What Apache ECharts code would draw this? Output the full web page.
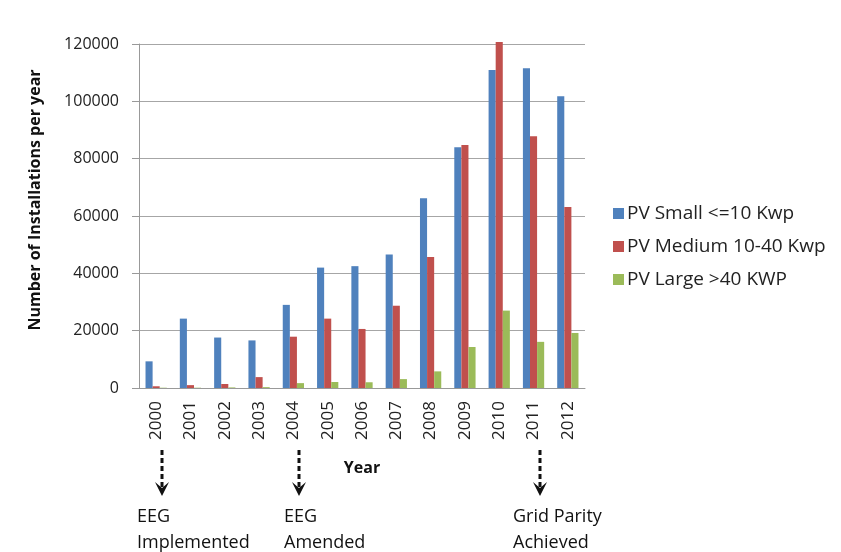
<!DOCTYPE html>
<html>
<head>
<meta charset="utf-8">
<script src="https://cdn.jsdelivr.net/npm/echarts@6/dist/echarts.min.js"></script>
<style>
  html, body { margin: 0; padding: 0; background: #ffffff; }
  #chart { width: 841px; height: 552px; }
</style>
</head>
<body>
<div id="chart"></div>
<script>
// Annual PV installations by system size
const years = ['2000','2001','2002','2003','2004','2005','2006','2007','2008','2009','2010','2011','2012'];
const pvSmall  = [9300, 24200, 17600, 16600, 29000, 42000, 42500, 46600, 66200, 84000, 110900, 111500, 101800];
const pvMedium = [600, 1000, 1400, 3800, 17900, 24200, 20600, 28700, 45700, 84800, 120700, 87800, 63100];
const pvLarge  = [100, 100, 200, 300, 1700, 2100, 2000, 3100, 5800, 14300, 27000, 16100, 19200];
const yTicks = [0, 20000, 40000, 60000, 80000, 100000, 120000];

// Policy milestones marked under the year axis
const milestones = [
  { year: '2000', lines: ['EEG', 'Implemented'], dx: -25 },
  { year: '2004', lines: ['EEG', 'Amended'], dx: -15 },
  { year: '2011', lines: ['Grid Parity', 'Achieved'], dx: -27 }
];

const font = "'Open Sans', 'Liberation Sans', sans-serif";
const chart = echarts.init(document.getElementById('chart'));

chart.setOption({
  animation: false,
  backgroundColor: '#ffffff',
  color: ['#4F81BD', '#C0504D', '#9BBB59'],
  grid: { left: 139, right: 256, top: 44, bottom: 164 },
  legend: {
    orient: 'vertical',
    left: 608,
    top: 199,
    itemWidth: 11,
    itemHeight: 11,
    itemGap: 14,
    icon: 'rect',
    textStyle: { fontFamily: font, fontSize: 19, color: '#222', padding: [0, 0, 0, -2] },
    data: ['PV Small <=10 Kwp', 'PV Medium 10-40 Kwp', 'PV Large >40 KWP']
  },
  xAxis: {
    type: 'category',
    data: years,
    name: 'Year',
    nameLocation: 'middle',
    nameGap: 72,
    nameTextStyle: { fontFamily: font, fontSize: 16, fontWeight: 'bold', color: '#111' },
    axisLine: { lineStyle: { color: '#999' } },
    axisTick: { show: false },
    axisLabel: { rotate: 90, fontFamily: font, fontSize: 17, color: '#222', margin: 13 }
  },
  yAxis: {
    type: 'value',
    min: yTicks[0],
    max: yTicks[yTicks.length - 1],
    interval: yTicks[1] - yTicks[0],
    name: 'Number of Installations per year',
    nameLocation: 'middle',
    nameGap: 96,
    nameTextStyle: { fontFamily: font, fontSize: 16, fontWeight: 'bold', color: '#111', padding: [0, 0, 0, 32] },
    axisLine: { show: true, lineStyle: { color: '#999' } },
    axisTick: { show: true, length: 7, lineStyle: { color: '#999' } },
    axisLabel: { fontFamily: font, fontSize: 16, color: '#222', margin: 20, formatter: function (v) { return String(v); } },
    splitLine: { lineStyle: { color: '#a6a6a6' } }
  },
  series: [
    { name: 'PV Small <=10 Kwp', type: 'bar', data: pvSmall, barGap: '0%', barCategoryGap: '38%', clip: false },
    { name: 'PV Medium 10-40 Kwp', type: 'bar', data: pvMedium, barGap: '0%', barCategoryGap: '38%', clip: false },
    { name: 'PV Large >40 KWP', type: 'bar', data: pvLarge, barGap: '0%', barCategoryGap: '38%', clip: false }
  ]
});

// Dashed arrows and captions beneath the milestone years
const graphics = [];
milestones.forEach(function (m) {
  const x = Math.round(chart.convertToPixel({ xAxisIndex: 0 }, m.year)) + 6;
  graphics.push({
    type: 'line',
    shape: { x1: x, y1: 450, x2: x, y2: 488 },
    style: { stroke: '#111', lineWidth: 3, lineDash: [5, 3] }
  });
  graphics.push({
    type: 'polygon',
    shape: { points: [[x - 7, 482], [x, 496], [x + 7, 482], [x, 488]] },
    style: { fill: '#111' }
  });
  graphics.push({
    type: 'text',
    left: x + m.dx,
    top: 504,
    style: { text: m.lines.join('\n'), fontFamily: font, fontSize: 18, lineHeight: 26, fill: '#111' }
  });
});
chart.setOption({ graphic: graphics });
</script>
</body>
</html>
